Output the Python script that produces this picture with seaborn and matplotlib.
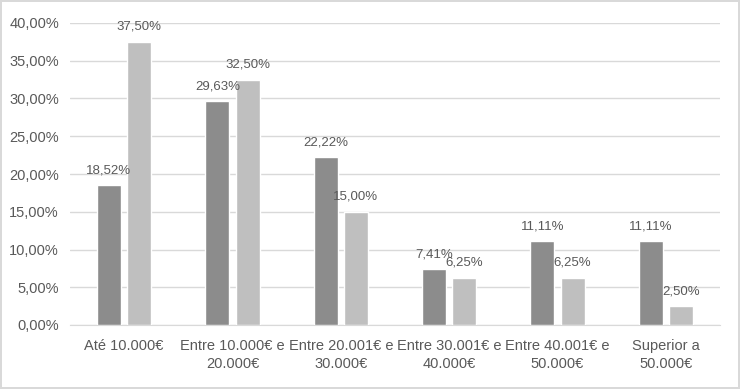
import pandas as pd
import seaborn as sns
import matplotlib.pyplot as plt

# 데이터
categorias = ['Até 10.000€', 'Entre 10.000€ e\n20.000€', 'Entre 20.001€ e\n30.000€',
              'Entre 30.001€ e\n40.000€', 'Entre 40.001€ e\n50.000€', 'Superior a\n50.000€']
serie1 = [18.52, 29.63, 22.22, 7.41, 11.11, 11.11]
serie2 = [37.50, 32.50, 15.00, 6.25, 6.25, 2.50]
series = ['Série 1', 'Série 2']

df = pd.DataFrame({
    'cat': categorias * 2,
    'valor': serie1 + serie2,
    'serie': [series[0]] * 6 + [series[1]] * 6,
})

sns.set_style('white')
plt.rcParams['font.family'] = ['Liberation Sans', 'DejaVu Sans']
txt = '#595959'

fig = plt.figure(figsize=(7.4, 3.89), dpi=100)
fig.patch.set_edgecolor('#d9d9d9')
fig.patch.set_linewidth(1.5)
ax = fig.add_axes([70 / 740, 64 / 389, 650 / 740, 302 / 389])

sns.barplot(data=df, x='cat', y='valor', hue='serie', ax=ax,
            palette=['#8c8c8c', '#bfbfbf'], width=0.56, gap=0.21,
            legend=False, zorder=3)

for cont, vals in zip(ax.containers, [serie1, serie2]):
    ax.bar_label(cont, labels=[f'{v:.2f}%'.replace('.', ',') for v in vals],
                 padding=6.5, fontsize=9.5, color=txt)

ax.set_ylim(0, 40)
ax.set_yticks(range(0, 41, 5))
ax.set_yticklabels([f'{v},00%' for v in range(0, 41, 5)])
ax.yaxis.grid(True, color='#d9d9d9', linewidth=1, zorder=0)
ax.set_xlabel('')
ax.set_ylabel('')
ax.tick_params(axis='both', colors=txt, labelsize=10.5, length=0)
ax.tick_params(axis='y', pad=8)
ax.tick_params(axis='x', pad=10)
for lab in ax.get_xticklabels():
    lab.set_linespacing(1.35)
for s in ['top', 'right', 'left']:
    ax.spines[s].set_visible(False)
ax.spines['bottom'].set_color('#d9d9d9')
ax.set_xlim(-0.5, 5.5)

fig.savefig('out.png', dpi=100, edgecolor=fig.get_edgecolor())
